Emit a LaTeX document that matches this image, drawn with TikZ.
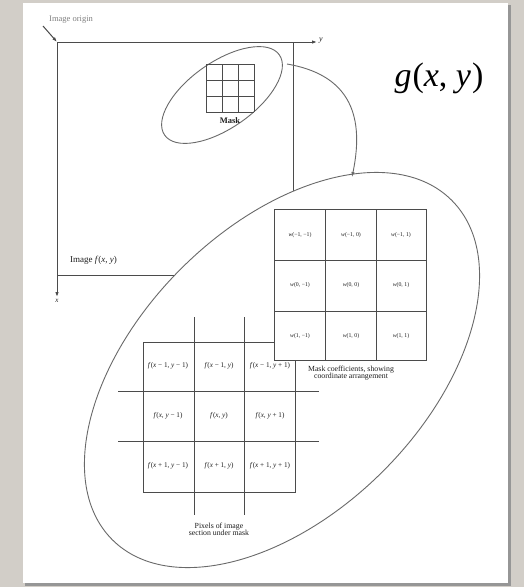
\documentclass[tikz,border=0pt]{standalone}
\usepackage{fontspec}
\setmainfont{Liberation Serif}
\usetikzlibrary{shapes.geometric,arrows.meta}
\definecolor{bgcol}{RGB}{210,206,200}
\definecolor{shadowcol}{RGB}{150,150,150}
\definecolor{linecol}{RGB}{75,75,75}
\definecolor{ellcol}{RGB}{105,105,105}
\definecolor{txtcol}{RGB}{30,30,30}
\begin{document}
\begin{tikzpicture}[x=1pt,y=-1pt,
  gline/.style={draw=linecol,line width=1pt},
  ell/.style={draw=ellcol,line width=0.9pt,ellipse,inner sep=0pt},
  lab/.style={text=txtcol,inner sep=0pt},
  wlab/.style={lab,font=\fontsize{5.8}{7}\selectfont},
  flab/.style={lab,font=\fontsize{7.2}{8.5}\selectfont},
  captext/.style={lab,font=\fontsize{7.8}{8.5}\selectfont,align=center},
  tip/.style={-{Latex[length=5pt,width=3.5pt]}},
]
\useasboundingbox (0,0) rectangle (524,587);
\fill[bgcol] (0,0) rectangle (524,587);
\fill[shadowcol] (25,5) rectangle (511,586);
\fill[white] (23,3) rectangle (508,583);

% image frame and axes
\coordinate (o) at (57,42);
\coordinate (tr) at (293,42);
\coordinate (br) at (293,275);
\coordinate (bl) at (57,275);
\coordinate (yend) at (317,42);
\coordinate (xend) at (57,297);
\draw[gline] (tr) -- (br) -- (bl);
\draw[gline,tip] (o) -- (yend);
\draw[gline,tip] (o) -- (xend);
\node[lab,font=\fontsize{8}{9}\selectfont,anchor=west] (ylab) at (319,41) {\textit{y}};
\node[lab,font=\fontsize{7}{8}\selectfont,anchor=north] (xlab) at (57,299) {\textit{x}};
\node[lab,text=gray,font=\fontsize{8.5}{9}\selectfont,anchor=west] (origlab) at (49,20) {Image origin};
\coordinate (oa) at (43,26);
\draw[gline,tip] (oa) -- (o);
\node[lab,font=\fontsize{9}{10}\selectfont,anchor=west] (imglab) at (70,260) {Image \textit{f}(\textit{x}, \textit{y})};

% mask
\node[ell, minimum width=140pt, minimum height=66pt, rotate=35] (maskell) at (222,95) {};
\foreach \i in {0,1,2,3} {
  \draw[gline] (206+16*\i,64) -- (206+16*\i,112);
  \draw[gline] (206,64+16*\i) -- (254,64+16*\i);
}
\node[lab,font=\bfseries\fontsize{8.5}{9}\selectfont] (masklab) at (230,121) {Mask};

% g(x,y)
\node[lab,text=black,font=\fontsize{34}{42}\selectfont] (g) at (439,78) {\textit{g}\kern1pt(\textit{x}, \textit{y}\kern1pt)};

% big ellipse
\node[ell, fill=white, minimum width=480pt, minimum height=286pt, rotate=45] (bigell) at (282,370) {};

% connector
\coordinate (cs) at (287,64);
\coordinate (ce) at (352,177);
\draw[ellcol,line width=0.9pt,tip] (cs) .. controls (345,74) and (366,110) .. (ce);

% pixel grid
\draw[gline] (143,342) rectangle (295,492);
\foreach \x in {194,244} \draw[gline] (\x,317) -- (\x,515);
\foreach \y in {391,441} \draw[gline] (118,\y) -- (319,\y);
\node[flab] (f11) at (168,366) {\textit{f}(\textit{x} − 1, \textit{y} − 1)};
\node[flab] (f12) at (219,366) {\textit{f}(\textit{x} − 1, \textit{y})};
\node[flab] (f13) at (270,366) {\textit{f}(\textit{x} − 1, \textit{y} + 1)};
\node[flab] (f21) at (168,416) {\textit{f}(\textit{x}, \textit{y} − 1)};
\node[flab] (f22) at (219,416) {\textit{f}(\textit{x}, \textit{y})};
\node[flab] (f23) at (270,416) {\textit{f}(\textit{x}, \textit{y} + 1)};
\node[flab] (f31) at (168,466) {\textit{f}(\textit{x} + 1, \textit{y} − 1)};
\node[flab] (f32) at (219,466) {\textit{f}(\textit{x} + 1, \textit{y})};
\node[flab] (f33) at (270,466) {\textit{f}(\textit{x} + 1, \textit{y} + 1)};
\node[captext] (pixcap) at (219,529) {Pixels of image\\[-1.5pt]section under mask};

% mask coefficient grid
\fill[white] (274,209) rectangle (426,360);
\draw[gline] (274,209) rectangle (426,360);
\foreach \x in {325,376} \draw[gline] (\x,209) -- (\x,360);
\foreach \y in {260,311} \draw[gline] (274,\y) -- (426,\y);
\node[wlab] (w11) at (300,235) {\textit{w}(−1, −1)};
\node[wlab] (w12) at (351,235) {\textit{w}(−1, 0)};
\node[wlab] (w13) at (401,235) {\textit{w}(−1, 1)};
\node[wlab] (w21) at (300,285) {\textit{w}(0, −1)};
\node[wlab] (w22) at (351,285) {\textit{w}(0, 0)};
\node[wlab] (w23) at (401,285) {\textit{w}(0, 1)};
\node[wlab] (w31) at (300,336) {\textit{w}(1, −1)};
\node[wlab] (w32) at (351,336) {\textit{w}(1, 0)};
\node[wlab] (w33) at (401,336) {\textit{w}(1, 1)};
\node[captext] (wcap) at (351,373) {Mask coefficients, showing\\[-1.5pt]coordinate arrangement};
\end{tikzpicture}
\end{document}
